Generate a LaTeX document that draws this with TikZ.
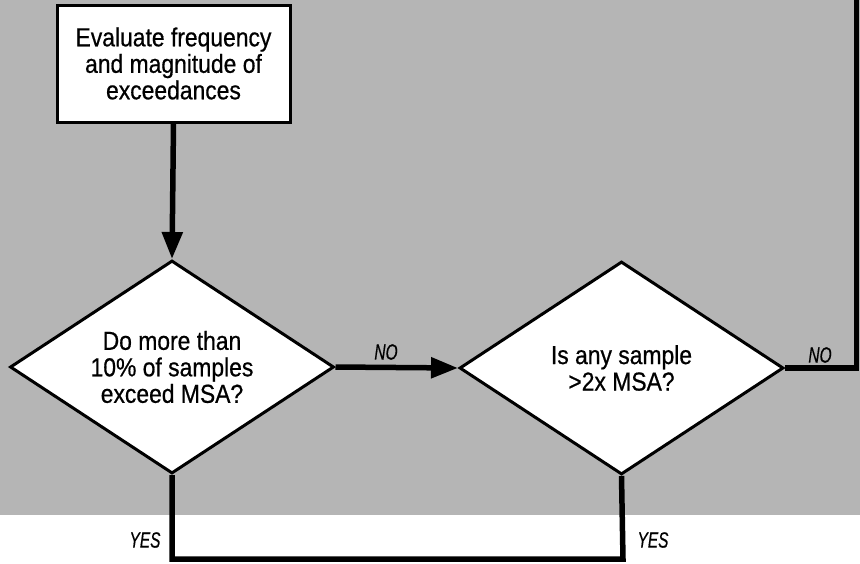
\documentclass[tikz,border=0pt]{standalone}
\usepackage{fontspec}
\setmainfont{Liberation Sans}[FakeStretch=0.88,FakeBold=0.6]
\usetikzlibrary{shapes.geometric,arrows.meta}
\definecolor{bggray}{gray}{0.71}
\tikzset{
  procbox/.style={draw=black, line width=3pt, fill=white, minimum width=233pt, minimum height=117pt, inner sep=0pt, align=center, font=\fontsize{26}{26.5}\selectfont},
  decision/.style={diamond, shape aspect=1.5, draw=black, line width=3pt, fill=white, minimum width=324pt, minimum height=213pt, inner sep=0pt, align=center, font=\fontsize{26}{26.5}\selectfont},
  flow/.style={line width=5.5pt},
  flowarrow/.style={line width=5.5pt, -{Triangle[length=27pt,width=20pt]}},
  lbl/.style={inner sep=0pt, font=\fontsize{22}{24}\selectfont\itshape}
}
\begin{document}
\begin{tikzpicture}[x=1pt,y=-1pt]
\useasboundingbox (0,0) rectangle (860,563);
\fill[bggray] (0,0) rectangle (860,515);
\node[procbox] (box) at (173.5,63.5) {Evaluate frequency\\and magnitude of\\exceedances};
\node[decision] (d1) at (172,367) {Do more than\\10\% of samples\\exceed MSA?};
\node[decision] (d2) at (621.5,368) {Is any sample\\>2x MSA?};
\draw[flowarrow] (box.south) -- (d1.north);
\draw[flowarrow] (d1.east) -- (d2.west);
\coordinate (rtop) at (856.5,-6);
\draw[flow] (d2.east) -| (rtop);
\coordinate (b1) at (172,559);
\coordinate (b2) at (623,559);
\draw[flow] (d1.south) -- (b1) -- (b2) -- (d2.south);
\node[lbl, xscale=0.8] (no1) at (386,352) {NO};
\node[lbl, xscale=0.8] (no2) at (820,355) {NO};
\node[lbl, xscale=0.8] (yes1) at (145,540) {YES};
\node[lbl, xscale=0.8] (yes2) at (653,540) {YES};
\end{tikzpicture}
\end{document}
